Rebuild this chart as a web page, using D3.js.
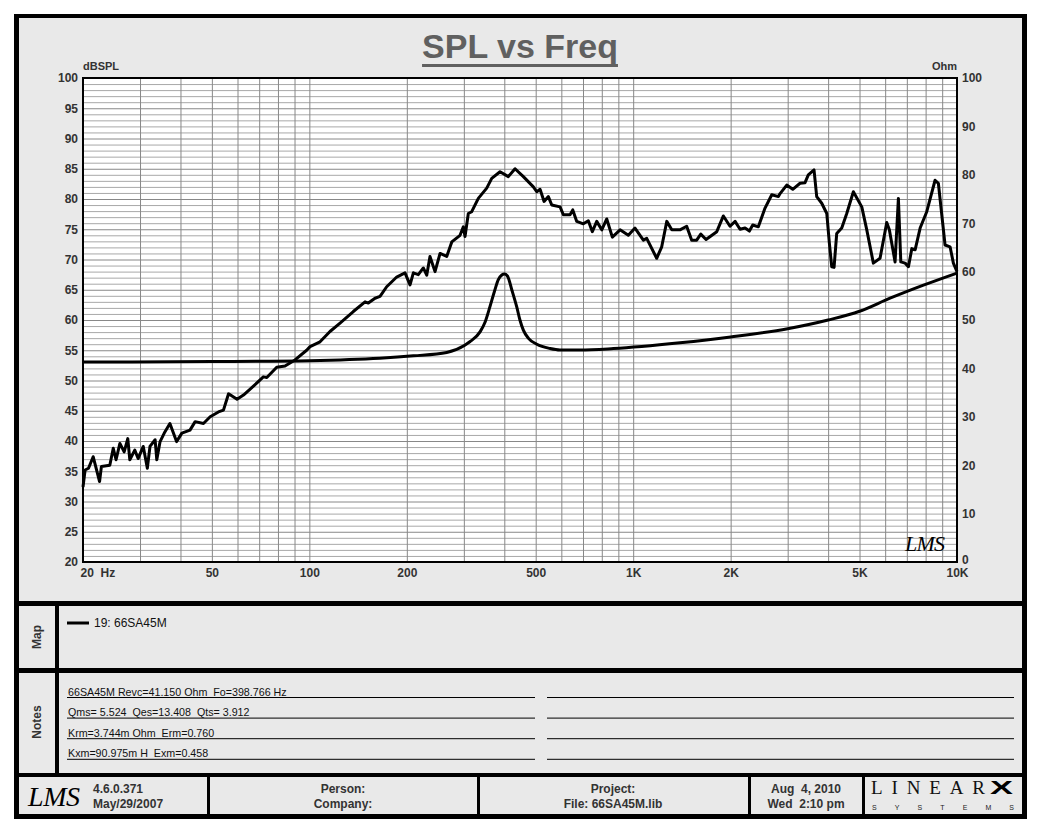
<!doctype html>
<html>
<head>
<meta charset="utf-8">
<script src="https://d3js.org/d3.v7.min.js"></script>
<style>
    body { margin: 0; background: #fff; }
    svg text { font-family: "Liberation Sans", Arial, sans-serif; }
    .tick-lbl text, .lbl { font-size: 12px; font-weight: bold; fill: #333; }
    .note { font-size: 10.7px; fill: #111; white-space: pre; }
</style>
</head>
<body>
<script>
    // SPL curve (left axis, dBSPL)
    let splFreq = [20, 20.3, 20.8, 21.5, 22.5, 22.8, 24.2, 24.8, 25.3, 26, 26.8, 27.5, 27.9, 28.9, 29.6, 30.7, 31.6, 32.2,
        33.4, 33.8, 34.6, 35.8, 37.1, 38.9, 40.4, 42.8, 44.4, 47.1, 49.4, 52.4, 54.3, 56.3, 59.8, 62.6, 67.6, 72.1, 73.9,
        79.3, 84.1, 90.3, 98.1, 100.5, 107.9, 115.8, 124.4, 136.7, 148.6, 152.1, 159.5, 165.3, 173.3, 186.1, 197.4,
        204.6, 209.5, 217, 224.9, 230.4, 235.8, 244.4, 253.3, 265.6, 275.3, 292, 298.9, 302.5, 309.7, 317.3, 332.5, 353,
        365.8, 388, 411.6, 431.7, 458, 491.8, 503.8, 515.8, 530.7, 547.1, 560.5, 594.6, 608.7, 638.4, 650.8, 669.5,
        701.6, 727, 748, 771.8, 799.8, 828.7, 862.4, 910.9, 966.2, 1013, 1050, 1075, 1101, 1182, 1225, 1270, 1316, 1395,
        1463, 1516, 1571, 1617, 1679, 1812, 1899, 1991, 2064, 2138, 2216, 2285, 2340, 2435, 2554, 2679, 2808, 2842,
        2980, 3110, 3276, 3394, 3474, 3618, 3688, 3822, 3962, 4035, 4104, 4172, 4252, 4406, 4566, 4786, 5081, 5265,
        5517, 5786, 6068, 6182, 6438, 6592, 6706, 6914, 7080, 7253, 7425, 7694, 8064, 8556, 8759, 9186, 9520, 9746, 10000];
    let splDb = [32.4, 35.2, 35.5, 37.4, 33.3, 35.8, 36.0, 38.8, 36.9, 39.6, 38.2, 40.4, 36.9, 38.5, 37.1, 39.1, 35.5, 39.1,
        40.2, 36.9, 39.9, 41.5, 42.9, 39.9, 41.3, 41.8, 43.2, 42.9, 44.0, 44.8, 45.1, 47.8, 46.9, 47.6, 49.2, 50.6, 50.5,
        52.2, 52.4, 53.4, 55.0, 55.6, 56.4, 58.1, 59.5, 61.4, 63.0, 62.8, 63.6, 63.9, 65.5, 67.1, 67.8,
        65.8, 67.8, 67.5, 68.6, 67.4, 70.5, 68.0, 71.0, 70.5, 72.9, 74.0, 75.4, 73.8, 77.6, 77.9, 80.1, 81.8,
        83.4, 84.5, 83.7, 85.0, 83.7, 82.0, 81.2, 81.6, 79.6, 80.4, 79.0, 78.7, 77.4, 77.4, 78.2, 76.3,
        75.9, 76.4, 74.6, 76.3, 74.9, 76.7, 73.7, 74.9, 74.0, 75.2, 74.0, 73.2, 73.5, 70.2, 72.1, 76.3, 74.9, 74.9,
        75.5, 73.2, 73.2, 74.2, 73.3, 74.6, 77.2, 75.5, 76.3, 75.0, 75.2, 74.7, 75.7, 75.4, 78.5, 80.7, 80.4, 80.9,
        82.3, 81.6, 82.6, 82.7, 84.0, 84.8, 80.4, 79.3, 77.6, 72.7, 68.8, 68.7, 74.3, 75.2, 77.6, 81.2, 78.7, 74.9,
        69.4, 70.2, 76.1, 74.9, 69.6, 80.1, 69.6, 69.4, 68.8, 71.8, 71.6, 75.2, 77.9, 83.1, 82.6, 72.4, 72.1, 69.4, 68.0];

    // impedance curve (right axis, Ohm)
    let ohmFreq = [20, 50, 100, 165, 209.5, 265.6, 302, 313, 337, 349, 361, 374, 383, 393, 400, 409, 422, 437, 447,
        458, 475, 504, 554, 594, 685, 869, 1395, 2000, 3000, 4000, 5000, 6212, 7876, 10000];
    let ohmVal = [41.3, 41.4, 41.6, 42.1, 42.6, 43.3, 44.8, 45.5, 47.6, 49.6, 52.7, 56.2, 58.3, 59.3, 59.5, 59.1, 56.2,
        52.7, 50.0, 47.9, 46.2, 45.0, 44.1, 43.8, 43.8, 44.1, 45.3, 46.5, 48.2, 50.0, 51.8, 54.5, 57.2, 59.7];

    let dbTicks = [20, 25, 30, 35, 40, 45, 50, 55, 60, 65, 70, 75, 80, 85, 90, 95, 100];
    let ohmTicks = [0, 10, 20, 30, 40, 50, 60, 70, 80, 90, 100];
    let freqTicks = [20, 50, 100, 200, 500, 1000, 2000, 5000, 10000];
    let freqLabels = ["20  Hz", "50", "100", "200", "500", "1K", "2K", "5K", "10K"];
    let legendNames = ["19: 66SA45M"];
    let notes = ["66SA45M Revc=41.150 Ohm  Fo=398.766 Hz", "Qms= 5.524  Qes=13.408  Qts= 3.912",
        "Krm=3.744m Ohm  Erm=0.760", "Kxm=90.975m H  Exm=0.458"];

    let width = 1040, height = 832;
    let pLeft = 83, pRight = 957, pTop = 78, pBottom = 562;

    let svg = d3.select("body").append("svg")
                .attr("width", width)
                .attr("height", height);

    // outer frame and panels
    svg.append("rect").attr("x", 14).attr("y", 14).attr("width", 1013).attr("height", 805).attr("fill", "#000");
    svg.append("rect").attr("x", 19).attr("y", 18).attr("width", 1003).attr("height", 796).attr("fill", "#e9e9e9");
    [[601, 5], [668, 5], [773, 4]].forEach(d =>
        svg.append("rect").attr("x", 19).attr("y", d[0]).attr("width", 1003).attr("height", d[1]).attr("fill", "#000"));
    svg.append("rect").attr("x", 55).attr("y", 606).attr("width", 4).attr("height", 167).attr("fill", "#000");
    [207, 477, 748, 862].forEach(xx =>
        svg.append("rect").attr("x", xx).attr("y", 777).attr("width", 3).attr("height", 37).attr("fill", "#000"));

    let x = d3.scaleLog().domain([20, 10000]).range([pLeft, pRight]);
    let yL = d3.scaleLinear().domain([20, 100]).range([pBottom, pTop]);
    let yR = d3.scaleLinear().domain([0, 100]).range([pBottom, pTop]);

    svg.append("rect").attr("x", pLeft).attr("y", pTop)
       .attr("width", pRight - pLeft).attr("height", pBottom - pTop).attr("fill", "#fff");

    // grid
    let hGrid = svg.append("g").attr("transform", "translate(" + pLeft + ",0)")
        .call(d3.axisLeft(yL).tickValues(d3.range(20, 101, 1)).tickSize(-(pRight - pLeft)).tickFormat(""));
    hGrid.select(".domain").remove();
    hGrid.selectAll("line").attr("stroke", d => d % 5 === 0 ? "#888" : "#a8a8a8");

    let vGrid = svg.append("g").attr("transform", "translate(0," + pBottom + ")")
        .call(d3.axisBottom(x).tickValues(x.ticks()).tickSize(-(pBottom - pTop)).tickFormat(""));
    vGrid.select(".domain").remove();
    vGrid.selectAll("line").attr("stroke", "#888");

    // axis labels
    let yAxisL = svg.append("g").attr("class", "tick-lbl").attr("transform", "translate(" + pLeft + ",0)")
        .call(d3.axisLeft(yL).tickValues(dbTicks).tickSize(0).tickPadding(5));
    let yAxisR = svg.append("g").attr("class", "tick-lbl").attr("transform", "translate(" + pRight + ",0)")
        .call(d3.axisRight(yR).tickValues(ohmTicks).tickSize(0).tickPadding(5));
    let xAxis = svg.append("g").attr("class", "tick-lbl").attr("transform", "translate(0," + pBottom + ")")
        .call(d3.axisBottom(x).tickValues(freqTicks).tickFormat((d, i) => freqLabels[i]).tickSize(0).tickPadding(6));
    [yAxisL, yAxisR, xAxis].forEach(g => {
        g.select(".domain").remove();
        g.attr("font-family", null).attr("font-size", null);
        g.selectAll("text").style("white-space", "pre");
    });
    xAxis.selectAll("text").filter((d, i) => i === 0).attr("text-anchor", "start").attr("x", -3);
    // the "0" on the right sits just above the "10K" label
    yAxisR.selectAll("text").filter(d => d === 0).attr("dy", "0.1em");

    svg.append("text").attr("class", "lbl").attr("x", pLeft).attr("y", 70).style("font-size", "11px").text("dBSPL");
    svg.append("text").attr("class", "lbl").attr("x", pRight).attr("y", 70).style("font-size", "11px")
       .attr("text-anchor", "end").text("Ohm");

    // curves
    let splLine = d3.line().x(d => x(d[0])).y(d => yL(d[1]));
    let ohmLine = d3.line().x(d => x(d[0])).y(d => yR(d[1])).curve(d3.curveMonotoneX);

    svg.append("path").datum(ohmFreq.map((f, i) => [f, ohmVal[i]]))
       .attr("d", ohmLine).attr("fill", "none").attr("stroke", "#000").attr("stroke-width", 3)
       .attr("stroke-linejoin", "round");
    svg.append("path").datum(splFreq.map((f, i) => [f, splDb[i]]))
       .attr("d", splLine).attr("fill", "none").attr("stroke", "#000").attr("stroke-width", 3)
       .attr("stroke-linejoin", "round");

    // plot frame
    svg.append("rect").attr("x", pLeft).attr("y", pTop)
       .attr("width", pRight - pLeft).attr("height", pBottom - pTop)
       .attr("fill", "none").attr("stroke", "#000").attr("stroke-width", 2);

    svg.append("text").attr("x", 905).attr("y", 551).attr("textLength", 40)
       .style("font-family", "'Liberation Serif', serif").style("font-style", "italic").style("font-size", "22px")
       .text("LMS");

    // title
    let title = svg.append("text").attr("x", 520).attr("y", 58).attr("text-anchor", "middle")
       .style("font-size", "34px").style("font-weight", "bold").attr("fill", "#606060")
       .text("SPL vs Freq");
    let tw = title.node().getComputedTextLength();
    svg.append("rect").attr("x", 520 - tw / 2).attr("y", 64).attr("width", tw).attr("height", 3).attr("fill", "#606060");

    // map / notes side labels
    [["Map", 637], ["Notes", 722]].forEach(d =>
        svg.append("text").attr("class", "lbl")
           .attr("transform", "translate(37," + d[1] + ") rotate(-90)")
           .attr("text-anchor", "middle").attr("dy", "0.35em").text(d[0]));

    // legend
    legendNames.forEach((name, i) => {
        svg.append("line").attr("x1", 67).attr("x2", 89).attr("y1", 623 + i * 14).attr("y2", 623 + i * 14)
           .attr("stroke", "#000").attr("stroke-width", 3);
        svg.append("text").attr("x", 94).attr("y", 623 + i * 14).attr("dy", "0.35em")
           .style("font-size", "12px").attr("fill", "#111").text(name);
    });

    // notes
    notes.forEach((t, i) => {
        let ly = 697.5 + i * 20.6;
        svg.append("text").attr("class", "note").attr("x", 68).attr("y", ly - 2).text(t);
        svg.append("line").attr("x1", 67).attr("x2", 535).attr("y1", ly).attr("y2", ly).attr("stroke", "#000");
        svg.append("line").attr("x1", 547).attr("x2", 1014).attr("y1", ly).attr("y2", ly).attr("stroke", "#000");
    });

    // footer
    svg.append("text").attr("x", 28).attr("y", 806).attr("textLength", 52)
       .style("font-family", "'Liberation Serif', serif").style("font-style", "italic").style("font-size", "28px")
       .text("LMS");
    let footer = [[93, "start", "4.6.0.371", "May/29/2007"], [343, "middle", "Person:", "Company:"],
                  [613, "middle", "Project:", "File: 66SA45M.lib"], [806, "middle", "Aug  4, 2010", "Wed  2:10 pm"]];
    footer.forEach(d => {
        svg.append("text").attr("class", "lbl").attr("x", d[0]).attr("y", 793).attr("text-anchor", d[1])
           .style("white-space", "pre").text(d[2]);
        svg.append("text").attr("class", "lbl").attr("x", d[0]).attr("y", 808).attr("text-anchor", d[1])
           .style("white-space", "pre").text(d[3]);
    });
    svg.append("text").attr("x", 871).attr("y", 794).attr("textLength", 114).attr("lengthAdjust", "spacing")
       .style("font-family", "'Liberation Serif', serif").style("font-size", "19px").attr("fill", "#111")
       .text("LINEAR");
    svg.append("text").attr("x", 990).attr("y", 794).attr("textLength", 23).attr("lengthAdjust", "spacingAndGlyphs")
       .style("font-size", "19px").style("font-weight", "900").attr("fill", "#000")
       .text("X");
    svg.append("text").attr("x", 872).attr("y", 810).attr("textLength", 142).attr("lengthAdjust", "spacing")
       .style("font-size", "7px").attr("fill", "#222")
       .text("SYSTEMS");
</script>
</body>
</html>
